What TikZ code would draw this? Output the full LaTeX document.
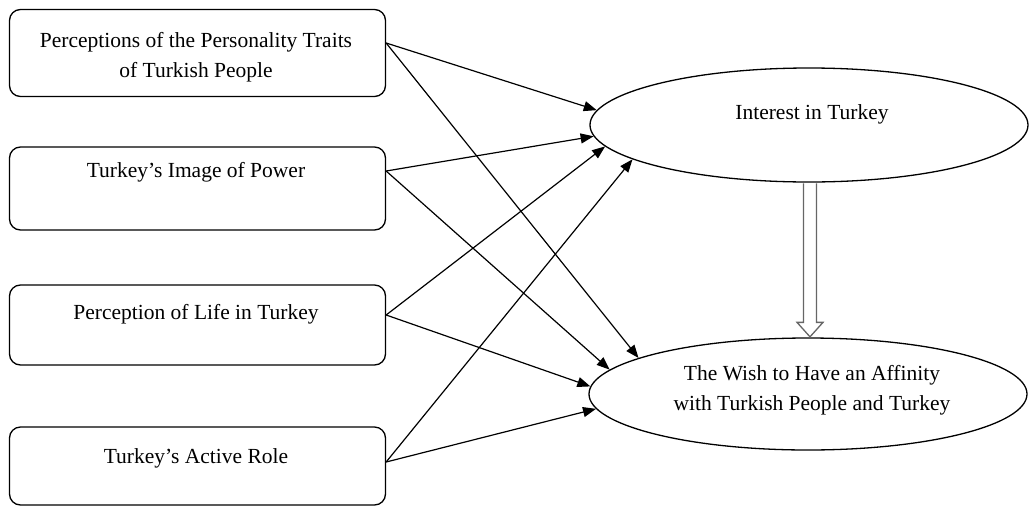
\documentclass[tikz,border=0pt]{standalone}
\usepackage{fontspec}
\setmainfont{Liberation Serif}
\usetikzlibrary{shapes.geometric,arrows.meta,calc}
\tikzset{
  boxnode/.style={draw, line width=1.3pt, rounded corners=11pt, minimum width=376pt, inner sep=0pt},
  ellnode/.style={draw, ellipse, line width=1.3pt, minimum width=438pt, minimum height=114pt, inner sep=0pt},
  lbl/.style={font=\fontsize{21.5}{30}\selectfont, align=center, inner sep=0pt},
  arr/.style={line width=1.2pt, -{Triangle[length=13pt,width=10pt]}},
  hollow/.style={draw=black!60, line width=1.3pt, fill=white, line join=miter}
}
\begin{document}
\begin{tikzpicture}[x=1pt,y=-1pt]
\useasboundingbox (0,0) rectangle (1029,507);
\node[boxnode, minimum height=87pt] (b1) at (197.5,53) {};
\node[boxnode, minimum height=83pt] (b2) at (197.5,188.5) {};
\node[boxnode, minimum height=80pt] (b3) at (197.5,325) {};
\node[boxnode, minimum height=78pt] (b4) at (197.5,466) {};
\node[lbl] (t1) at (196,57) {Perceptions of the Personality Traits\\of Turkish People};
\node[lbl] (t2) at (196,172) {Turkey’s Image of Power};
\node[lbl] (t3) at (196,314) {Perception of Life in Turkey};
\node[lbl] (t4) at (196,458) {Turkey’s Active Role};
\node[ellnode] (e1) at (809,125) {};
\node[ellnode, minimum height=112pt] (e2) at (808,394) {};
\node[lbl] (t5) at (812,114) {Interest in Turkey};
\node[lbl] (t6) at (812,390) {The Wish to Have an Affinity\\with Turkish People and Turkey};
% arrows to top ellipse
\draw[arr] ([yshift=10pt]b1.east) -- (e1.176.5);
\draw[arr] ([yshift=17.5pt]b2.east) -- (e1.-177.3);
\draw[arr] ([yshift=10pt]b3.east) -- (e1.186.6);
\draw[arr] ([yshift=4pt]b4.east) -- (e1.191.1);
% arrows to bottom ellipse
\draw[arr] ([yshift=10pt]b1.east) -- (e2.168.7);
\draw[arr] ([yshift=17.5pt]b2.east) -- (e2.173.9);
\draw[arr] ([yshift=10pt]b3.east) -- (e2.178.4);
\draw[arr] ([yshift=4pt]b4.east) -- (e2.184.3);
% hollow arrow
\draw[hollow] ($(e1.south)+(-5.5,0.8)$) -- ($(e2.north)+(-4.5,-15)$) -- ($(e2.north)+(-11,-15)$)
  -- ($(e2.north)+(2,-0.5)$) -- ($(e2.north)+(15,-15)$) -- ($(e2.north)+(8.5,-15)$) -- ($(e1.south)+(7.5,0.8)$);
\end{tikzpicture}
\end{document}
